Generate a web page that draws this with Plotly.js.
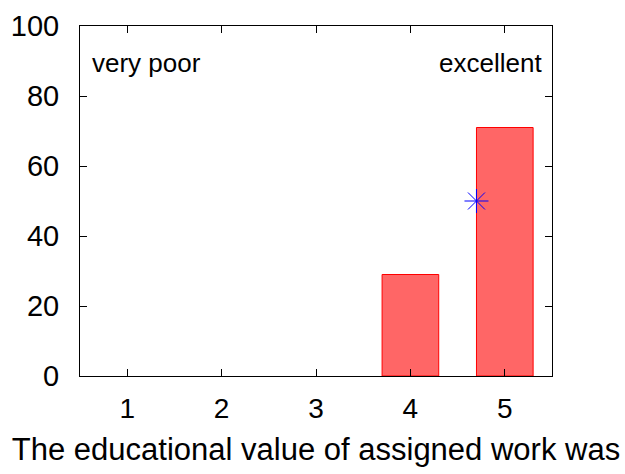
<!DOCTYPE html>
<html>
<head>
<meta charset="utf-8">
<script src="https://cdn.plot.ly/plotly-3.0.1.min.js"></script>
<style>html,body{margin:0;padding:0;background:#fff;}#chart{width:625px;height:474px;}</style>
</head>
<body>
<div id="chart"></div>
<script>
var categories = [1, 2, 3, 4, 5];
var percentages = [0, 0, 0, 29, 71];
var meanX = [4.7];
var meanY = [50];
var tickVals = [0, 20, 40, 60, 80, 100];
var lowLabel = "very poor";
var highLabel = "excellent";
var xTitle = "The educational value of assigned work was";

var font = "Liberation Sans, Arial, sans-serif";

var bars = {
  type: "bar",
  x: categories,
  y: percentages,
  width: 0.6,
  marker: {
    color: "#ff6666",
    line: {color: "#ff0000", width: percentages.map(function(v){return v > 0 ? 1 : 0;})}
  },
  hoverinfo: "none"
};
var star = {
  type: "scatter",
  mode: "markers",
  x: meanX,
  y: meanY,
  marker: {symbol: "asterisk-open", size: 20, color: "#0000ff", line: {color: "#0000ff", width: 1}},
  hoverinfo: "none"
};

var layout = {
  width: 625, height: 474,
  margin: {l: 80, r: 73, t: 26, b: 98},
  paper_bgcolor: "#fff", plot_bgcolor: "#fff",
  showlegend: false,
  font: {family: font, color: "#000"},
  xaxis: {
    range: [0.5, 5.5],
    tickvals: categories,
    ticks: "inside", ticklen: 7, tickcolor: "#000",
    showline: true, linecolor: "#000", linewidth: 1, mirror: "ticks",
    showgrid: false, zeroline: false,
    tickfont: {size: 28, family: font},
    ticklabelstandoff: 7,
    title: {text: xTitle, font: {size: 31, family: font}, standoff: 15}
  },
  yaxis: {
    range: [0, 100],
    tickvals: tickVals,
    ticks: "inside", ticklen: 7, tickcolor: "#000",
    showline: true, linecolor: "#000", linewidth: 1, mirror: "ticks",
    showgrid: false, zeroline: false,
    tickfont: {size: 29, family: font},
    ticklabelstandoff: 14
  },
  annotations: [
    {xref: "paper", yref: "paper", x: 0.022, y: 0.894, xanchor: "left", yanchor: "middle",
     text: lowLabel, showarrow: false, font: {size: 26, family: font}},
    {xref: "paper", yref: "paper", x: 0.982, y: 0.894, xanchor: "right", yanchor: "middle",
     text: highLabel, showarrow: false, font: {size: 26, family: font}}
  ]
};

Plotly.newPlot("chart", [bars, star], layout, {displayModeBar: false, staticPlot: true});
</script>
</body>
</html>
